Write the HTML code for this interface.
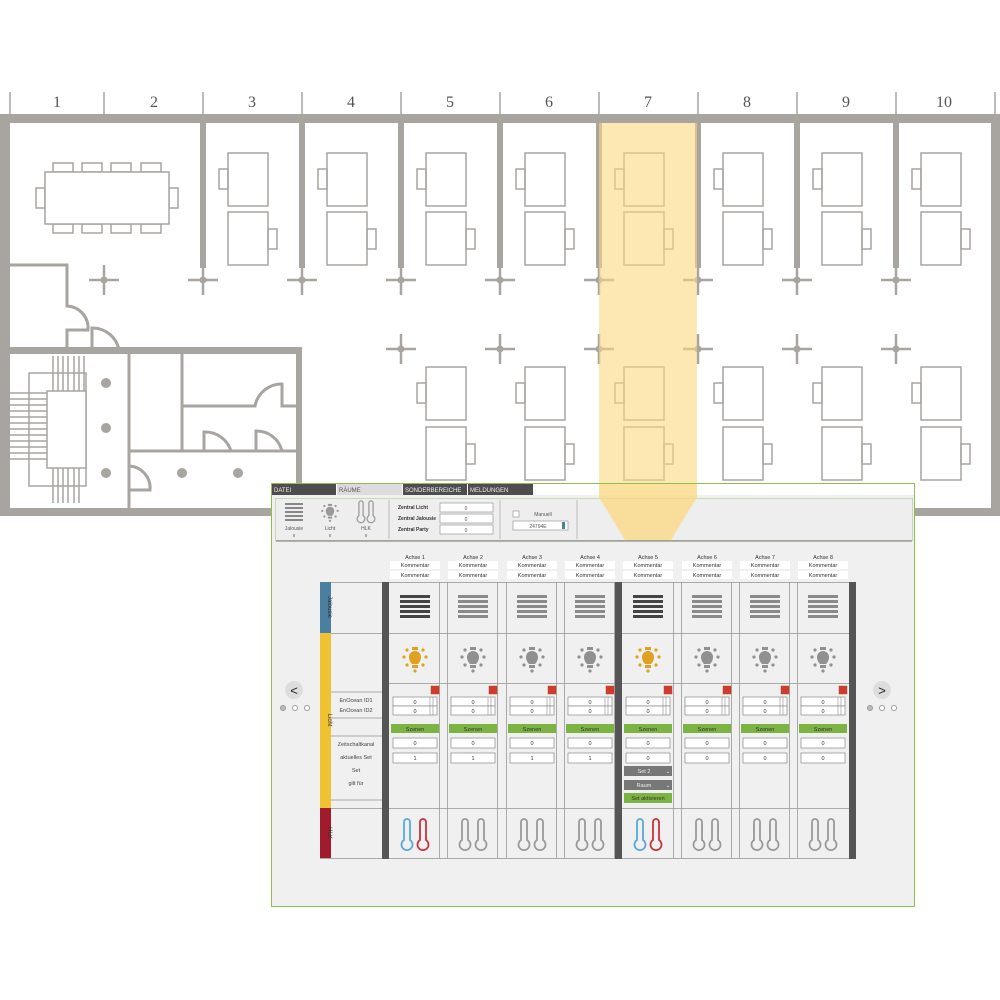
<!DOCTYPE html>
<html><head><meta charset="utf-8"><style>
html,body{margin:0;padding:0;background:#fff;width:1000px;height:1000px;overflow:hidden}
svg{display:block}
text{font-family:"Liberation Sans",sans-serif}
text.serif{font-family:"Liberation Serif",serif}
</style></head><body>
<svg width="1000" height="1000" viewBox="0 0 1000 1000" xmlns="http://www.w3.org/2000/svg">
<defs>
<g id="deskT" fill="none" stroke="#a8a4a0" stroke-width="1.5"><rect x="25" y="31" width="40" height="53"/><rect x="16" y="47" width="9" height="20"/></g>
<g id="deskB" fill="none" stroke="#a8a4a0" stroke-width="1.5"><rect x="25" y="0" width="40" height="53"/><rect x="65" y="17" width="9" height="20"/></g>
<g id="cross" stroke="#a8a4a0" stroke-width="2.5"><line x1="-15" y1="0" x2="15" y2="0"/><line x1="0" y1="-15" x2="0" y2="15"/><circle r="3.5" fill="#a8a4a0" stroke="none"/></g>
<g id="bulb"><rect x="-3" y="-13" width="6" height="3"/><path d="M-6,-3 a6,6 0 1 1 12,0 q0,4 -3,7 h-6 q-3,-3 -3,-7z"/><rect x="-3" y="5" width="6" height="3"/><circle cx="-11" cy="-3" r="1.6"/><circle cx="11" cy="-3" r="1.6"/><circle cx="-8" cy="-10" r="1.6"/><circle cx="8" cy="-10" r="1.6"/><circle cx="-8" cy="5" r="1.6"/><circle cx="8" cy="5" r="1.6"/><circle cx="0" cy="11" r="1.6"/></g>
<g id="therm" fill="none" stroke-width="1.8"><path d="M-3,0 v18 a5.5,5.5 0 1 0 6,0 v-18 a3,3 0 0 0 -6,0z"/></g>
</defs>

<!-- axis -->
<g stroke="#a8a4a0" stroke-width="1.5">
<line x1="10" y1="92" x2="10" y2="114"/><line x1="104" y1="92" x2="104" y2="114"/><line x1="203" y1="92" x2="203" y2="114"/><line x1="302" y1="92" x2="302" y2="114"/><line x1="401" y1="92" x2="401" y2="114"/><line x1="500" y1="92" x2="500" y2="114"/><line x1="599" y1="92" x2="599" y2="114"/><line x1="698" y1="92" x2="698" y2="114"/><line x1="797" y1="92" x2="797" y2="114"/><line x1="896" y1="92" x2="896" y2="114"/><line x1="995" y1="92" x2="995" y2="114"/>
</g>
<g font-size="16" fill="#555" text-anchor="middle">
<text class="serif" x="57" y="107">1</text><text class="serif" x="154" y="107">2</text><text class="serif" x="252" y="107">3</text><text class="serif" x="351" y="107">4</text><text class="serif" x="450" y="107">5</text><text class="serif" x="549" y="107">6</text><text class="serif" x="648" y="107">7</text><text class="serif" x="747" y="107">8</text><text class="serif" x="846" y="107">9</text><text class="serif" x="944" y="107">10</text>
</g>

<!-- walls -->
<g fill="#a8a4a0">
<rect x="0" y="114" width="1000" height="9"/>
<rect x="0" y="114" width="10" height="402"/>
<rect x="991" y="114" width="9" height="402"/>
<rect x="0" y="508" width="272" height="8"/>
<rect x="915" y="508" width="85" height="8"/>
<rect x="200" y="122" width="6" height="146"/><rect x="299" y="122" width="6" height="146"/><rect x="398" y="122" width="6" height="146"/><rect x="497" y="122" width="6" height="146"/><rect x="596" y="122" width="6" height="146"/><rect x="695" y="122" width="6" height="146"/><rect x="794" y="122" width="6" height="146"/><rect x="893" y="122" width="6" height="146"/>
<rect x="10" y="347" width="292" height="7"/>
<rect x="296" y="347" width="6" height="164"/>
</g>

<!-- crosses -->
<use href="#cross" x="104" y="280"/><use href="#cross" x="203" y="280"/><use href="#cross" x="302" y="280"/><use href="#cross" x="401" y="280"/><use href="#cross" x="500" y="280"/><use href="#cross" x="599" y="280"/><use href="#cross" x="698" y="280"/><use href="#cross" x="797" y="280"/><use href="#cross" x="896" y="280"/>
<use href="#cross" x="401" y="349"/><use href="#cross" x="500" y="349"/><use href="#cross" x="599" y="349"/><use href="#cross" x="698" y="349"/><use href="#cross" x="797" y="349"/><use href="#cross" x="896" y="349"/>

<!-- desks top row -->
<g transform="translate(203,122)"><use href="#deskT"/><use href="#deskB" y="90"/></g>
<g transform="translate(302,122)"><use href="#deskT"/><use href="#deskB" y="90"/></g>
<g transform="translate(401,122)"><use href="#deskT"/><use href="#deskB" y="90"/></g>
<g transform="translate(500,122)"><use href="#deskT"/><use href="#deskB" y="90"/></g>
<g transform="translate(599,122)"><use href="#deskT"/><use href="#deskB" y="90"/></g>
<g transform="translate(698,122)"><use href="#deskT"/><use href="#deskB" y="90"/></g>
<g transform="translate(797,122)"><use href="#deskT"/><use href="#deskB" y="90"/></g>
<g transform="translate(896,122)"><use href="#deskT"/><use href="#deskB" y="90"/></g>
<!-- desks bottom row -->
<g transform="translate(401,336)"><use href="#deskT"/><use href="#deskB" y="91"/></g>
<g transform="translate(500,336)"><use href="#deskT"/><use href="#deskB" y="91"/></g>
<g transform="translate(599,336)"><use href="#deskT"/><use href="#deskB" y="91"/></g>
<g transform="translate(698,336)"><use href="#deskT"/><use href="#deskB" y="91"/></g>
<g transform="translate(797,336)"><use href="#deskT"/><use href="#deskB" y="91"/></g>
<g transform="translate(896,336)"><use href="#deskT"/><use href="#deskB" y="91"/></g>

<!-- conference -->
<g fill="#fff" stroke="#a8a4a0" stroke-width="1.5">
<rect x="53" y="163" width="20" height="9"/><rect x="82" y="163" width="20" height="9"/><rect x="111" y="163" width="20" height="9"/><rect x="141" y="163" width="20" height="9"/>
<rect x="53" y="224" width="20" height="9"/><rect x="82" y="224" width="20" height="9"/><rect x="111" y="224" width="20" height="9"/><rect x="141" y="224" width="20" height="9"/>
<rect x="36" y="188" width="9" height="20"/><rect x="169" y="188" width="9" height="20"/>
<rect x="45" y="172" width="124" height="52"/>
</g>

<!-- left rooms -->
<g fill="none" stroke="#a8a4a0" stroke-width="3">
<path d="M10,265 H67 V306 A22,22 0 0 1 88,330 H67 V350"/>
<path d="M92,350 V328 A27,27 0 0 1 119,350"/>
<path d="M129,354 V508"/><path d="M182,354 V451"/><path d="M129,451 H298"/>
<path d="M182,406 H255 A27,27 0 0 1 282,384 V406 H298"/>
<path d="M204,451 V432 A27,27 0 0 1 231,451"/>
<path d="M256,451 V431 A26,26 0 0 1 282,451"/>
<path d="M129,466 A22,22 0 0 1 150,490 H129"/>
</g>
<g fill="none" stroke="#a8a4a0" stroke-width="1.5">
<rect x="29" y="373" width="57" height="113"/>
<rect x="47" y="391" width="39" height="77" fill="#fff"/>
<path d="M53,356 V391 M58,356 V391 M63,356 V391 M68,356 V391 M74,356 V391 M79,356 V391 M84,356 V391"/>
<path d="M53,468 V503 M58,468 V503 M63,468 V503 M68,468 V503 M74,468 V503 M79,468 V503"/>
<path d="M10,393 H47 M10,399 H47 M10,405 H47 M10,411 H47 M10,417 H47 M10,423 H47 M10,429 H47 M10,435 H47 M10,441 H47 M10,447 H47 M10,453 H47 M10,459 H47"/>
</g>
<g fill="#a8a4a0"><circle cx="106" cy="383" r="5"/><circle cx="106" cy="428" r="5"/><circle cx="106" cy="473" r="5"/><circle cx="182" cy="473" r="5"/><circle cx="238" cy="473" r="5"/></g>

<!-- highlight -->
<path d="M599,123 H697 V484 H599Z" fill="#fcd77f" opacity="0.6"/>

<!-- PANEL -->
<rect x="271.5" y="483.5" width="643" height="423" fill="#f0f0f0" stroke="#8cc152" stroke-width="1"/>
<rect x="272" y="484" width="642" height="11" fill="#fff"/>
<rect x="272" y="484" width="64" height="11" fill="#4d4d4d"/>
<rect x="337" y="484" width="65" height="11" fill="#dcdcdc"/>
<rect x="403" y="484" width="64" height="11" fill="#4d4d4d"/>
<rect x="468" y="484" width="65" height="11" fill="#4d4d4d"/>
<g font-size="6" fill="#eee"><text x="274" y="492">DATEI</text><text x="339" y="492" fill="#555">RÄUME</text><text x="405" y="492">SONDERBEREICHE</text><text x="470" y="492">MELDUNGEN</text></g>
<rect x="275.5" y="498.5" width="637" height="42" fill="#eeeeee" stroke="#c8d8b0"/>
<path d="M599,484 H697 V497 L671,540 H625 L599,497Z" fill="#fcd77f" opacity="0.75"/>
<line x1="276" y1="541" x2="912" y2="541" stroke="#777" stroke-width="1"/>
<!-- toolbar icons -->
<g fill="#888"><rect x="285" y="503" width="18" height="2"/><rect x="285" y="507" width="18" height="2"/><rect x="285" y="511" width="18" height="2"/><rect x="285" y="515" width="18" height="2"/><rect x="285" y="519" width="18" height="2"/></g>
<use href="#bulb" x="330" y="513" fill="#999" transform="translate(330,513) scale(0.7) translate(-330,-513)"/>
<use href="#therm" x="361" y="503" stroke="#999" transform="translate(361,503) scale(0.7) translate(-361,-503)"/>
<use href="#therm" x="371" y="503" stroke="#999" transform="translate(371,503) scale(0.7) translate(-371,-503)"/>
<g font-size="5" fill="#555" text-anchor="middle"><text x="294" y="530">Jalousie</text><text x="330" y="530">Licht</text><text x="366" y="530">HLK</text><text x="294" y="537">v</text><text x="330" y="537">v</text><text x="366" y="537">v</text></g>
<g stroke="#bbb"><line x1="389" y1="500" x2="389" y2="539"/><line x1="500" y1="500" x2="500" y2="539"/><line x1="577" y1="500" x2="577" y2="539"/></g>
<g font-size="5" font-weight="bold" fill="#333"><text x="398" y="509">Zentral Licht</text><text x="398" y="520">Zentral Jalousie</text><text x="398" y="531">Zentral Party</text></g>
<g fill="#fff" stroke="#999" stroke-width="0.7"><rect x="440" y="503" width="53" height="9"/><rect x="440" y="514" width="53" height="9"/><rect x="440" y="525" width="53" height="9"/><rect x="513" y="521" width="55" height="9"/><rect x="513" y="511" width="6" height="6"/></g>
<rect x="562" y="522" width="3" height="7" fill="#4a7fa0"/>
<g font-size="5" fill="#555" text-anchor="middle"><text x="466" y="510">0</text><text x="466" y="521">0</text><text x="466" y="532">0</text><text x="538" y="528">24794E</text><text x="543" y="516">Manuell</text></g>

<!-- nav -->
<circle cx="294" cy="690" r="9" fill="#ddd"/><text x="294" y="695" font-size="13" text-anchor="middle" fill="#222">&lt;</text>
<circle cx="882" cy="690" r="9" fill="#ddd"/><text x="882" y="695" font-size="13" text-anchor="middle" fill="#222">&gt;</text>
<g fill="#fff" stroke="#999"><circle cx="283" cy="708" r="2.5" fill="#bbb"/><circle cx="295" cy="708" r="2.5"/><circle cx="307" cy="708" r="2.5"/><circle cx="870" cy="708" r="2.5" fill="#bbb"/><circle cx="882" cy="708" r="2.5"/><circle cx="894" cy="708" r="2.5"/></g>

<!-- grid frame -->
<rect x="320" y="582" width="11" height="51" fill="#4a7fa0"/>
<rect x="320" y="633" width="11" height="175" fill="#f0c232"/>
<rect x="320" y="808" width="11" height="50" fill="#a01c2c"/>
<g font-size="6" fill="#333" text-anchor="middle"><text transform="translate(328,607) rotate(90)">Jalousie</text><text transform="translate(328,720) rotate(90)">Licht</text><text transform="translate(328,833) rotate(90)">HLK</text></g>
<g stroke="#aaa" stroke-width="1"><line x1="331" y1="582.5" x2="849" y2="582.5"/><line x1="331" y1="633.5" x2="849" y2="633.5"/><line x1="331" y1="808.5" x2="849" y2="808.5"/><line x1="320" y1="858.5" x2="856" y2="858.5"/>
<line x1="389" y1="683.5" x2="849" y2="683.5"/>
<line x1="331" y1="692" x2="382" y2="692"/><line x1="331" y1="718" x2="382" y2="718"/><line x1="331" y1="736" x2="382" y2="736"/><line x1="331" y1="800" x2="382" y2="800"/></g>
<rect x="382" y="582" width="7" height="277" fill="#555"/>
<rect x="615" y="582" width="7" height="277" fill="#555"/>
<rect x="849" y="582" width="7" height="277" fill="#555"/>
<g font-size="5.5" fill="#444" text-anchor="middle"><text x="356" y="702">EnOcean ID1</text><text x="356" y="712">EnOcean ID2</text><text x="356" y="746">Zeitschaltkanal</text><text x="356" y="759">aktuelles Set</text><text x="356" y="772">Set</text><text x="356" y="785">gilt für</text></g>

<!-- column separators -->
<g stroke="#999" stroke-width="0.8">
<line x1="439.5" y1="582" x2="439.5" y2="858"/><line x1="447.5" y1="582" x2="447.5" y2="858"/>
<line x1="497.5" y1="582" x2="497.5" y2="858"/><line x1="506.5" y1="582" x2="506.5" y2="858"/>
<line x1="556.5" y1="582" x2="556.5" y2="858"/><line x1="564.5" y1="582" x2="564.5" y2="858"/>
<line x1="614.5" y1="582" x2="614.5" y2="858"/>
<line x1="673.5" y1="582" x2="673.5" y2="858"/><line x1="681.5" y1="582" x2="681.5" y2="858"/>
<line x1="731.5" y1="582" x2="731.5" y2="858"/><line x1="739.5" y1="582" x2="739.5" y2="858"/>
<line x1="789.5" y1="582" x2="789.5" y2="858"/><line x1="797.5" y1="582" x2="797.5" y2="858"/>
</g>

<defs>
<g id="colbase">
<rect x="0" y="561" width="50" height="8" fill="#fff"/><rect x="0" y="571" width="50" height="8" fill="#fff"/>
<rect x="41" y="686" width="8" height="8" fill="#d03a30" stroke="#a52" stroke-width="0.5"/>
<g fill="#fff" stroke="#888" stroke-width="0.7"><rect x="3" y="697" width="44" height="9"/><rect x="3" y="706" width="44" height="9"/><rect x="3" y="738" width="44" height="10"/><rect x="3" y="753" width="44" height="10"/></g>
<g stroke="#888" stroke-width="0.6"><line x1="40" y1="697" x2="40" y2="715"/><line x1="43" y1="697" x2="43" y2="715"/></g>
<rect x="1" y="724" width="48" height="9" fill="#7cb342"/>
</g>
<g id="jalD" fill="#444"><rect x="10" y="595" width="30" height="3"/><rect x="10" y="600" width="30" height="3"/><rect x="10" y="605" width="30" height="3"/><rect x="10" y="610" width="30" height="3"/><rect x="10" y="615" width="30" height="3"/></g>
<g id="jalG" fill="#8a8a8a"><rect x="10" y="595" width="30" height="3"/><rect x="10" y="600" width="30" height="3"/><rect x="10" y="605" width="30" height="3"/><rect x="10" y="610" width="30" height="3"/><rect x="10" y="615" width="30" height="3"/></g>
<g id="hlkG" stroke="#999"><use href="#therm" x="17" y="822"/><use href="#therm" x="33" y="822"/></g>
<g id="hlkC"><use href="#therm" x="17" y="822" stroke="#5aa8d8"/><use href="#therm" x="33" y="822" stroke="#c8323c"/></g>
</defs>

<g transform="translate(390,0)"><use href="#colbase"/><use href="#jalD"/><use href="#bulb" x="25" y="660" fill="#e0a020"/><use href="#hlkC"/></g>
<g transform="translate(448,0)"><use href="#colbase"/><use href="#jalG"/><use href="#bulb" x="25" y="660" fill="#909090"/><use href="#hlkG"/></g>
<g transform="translate(507,0)"><use href="#colbase"/><use href="#jalG"/><use href="#bulb" x="25" y="660" fill="#909090"/><use href="#hlkG"/></g>
<g transform="translate(565,0)"><use href="#colbase"/><use href="#jalG"/><use href="#bulb" x="25" y="660" fill="#909090"/><use href="#hlkG"/></g>
<g transform="translate(623,0)"><use href="#colbase"/><use href="#jalD"/><use href="#bulb" x="25" y="660" fill="#e0a020"/><use href="#hlkC"/>
<rect x="1" y="766" width="48" height="10" fill="#777"/><rect x="1" y="780" width="48" height="10" fill="#777"/><rect x="1" y="793" width="48" height="10" fill="#7cb342"/></g>
<g transform="translate(682,0)"><use href="#colbase"/><use href="#jalG"/><use href="#bulb" x="25" y="660" fill="#909090"/><use href="#hlkG"/></g>
<g transform="translate(740,0)"><use href="#colbase"/><use href="#jalG"/><use href="#bulb" x="25" y="660" fill="#909090"/><use href="#hlkG"/></g>
<g transform="translate(798,0)"><use href="#colbase"/><use href="#jalG"/><use href="#bulb" x="25" y="660" fill="#909090"/><use href="#hlkG"/></g>

<g font-size="5.5" fill="#333" text-anchor="middle">
<text x="415" y="559">Achse 1</text><text x="415" y="567">Kommentar</text><text x="415" y="577">Kommentar</text><text x="415" y="704">0</text><text x="415" y="713">0</text><text x="415" y="731">Szenen</text><text x="415" y="745">0</text><text x="415" y="760">1</text>
<text x="473" y="559">Achse 2</text><text x="473" y="567">Kommentar</text><text x="473" y="577">Kommentar</text><text x="473" y="704">0</text><text x="473" y="713">0</text><text x="473" y="731">Szenen</text><text x="473" y="745">0</text><text x="473" y="760">1</text>
<text x="532" y="559">Achse 3</text><text x="532" y="567">Kommentar</text><text x="532" y="577">Kommentar</text><text x="532" y="704">0</text><text x="532" y="713">0</text><text x="532" y="731">Szenen</text><text x="532" y="745">0</text><text x="532" y="760">1</text>
<text x="590" y="559">Achse 4</text><text x="590" y="567">Kommentar</text><text x="590" y="577">Kommentar</text><text x="590" y="704">0</text><text x="590" y="713">0</text><text x="590" y="731">Szenen</text><text x="590" y="745">0</text><text x="590" y="760">1</text>
<text x="648" y="559">Achse 5</text><text x="648" y="567">Kommentar</text><text x="648" y="577">Kommentar</text><text x="648" y="704">0</text><text x="648" y="713">0</text><text x="648" y="731">Szenen</text><text x="648" y="745">0</text><text x="648" y="760">0</text>
<text x="644" y="773" fill="#eee">Set 2</text><text x="668" y="773" fill="#eee">⌄</text><text x="644" y="787" fill="#eee">Raum</text><text x="668" y="787" fill="#eee">⌄</text><text x="648" y="800">Set aktivieren</text>
<text x="707" y="559">Achse 6</text><text x="707" y="567">Kommentar</text><text x="707" y="577">Kommentar</text><text x="707" y="704">0</text><text x="707" y="713">0</text><text x="707" y="731">Szenen</text><text x="707" y="745">0</text><text x="707" y="760">0</text>
<text x="765" y="559">Achse 7</text><text x="765" y="567">Kommentar</text><text x="765" y="577">Kommentar</text><text x="765" y="704">0</text><text x="765" y="713">0</text><text x="765" y="731">Szenen</text><text x="765" y="745">0</text><text x="765" y="760">0</text>
<text x="823" y="559">Achse 8</text><text x="823" y="567">Kommentar</text><text x="823" y="577">Kommentar</text><text x="823" y="704">0</text><text x="823" y="713">0</text><text x="823" y="731">Szenen</text><text x="823" y="745">0</text><text x="823" y="760">0</text>
</g>
</svg>
</body></html>
